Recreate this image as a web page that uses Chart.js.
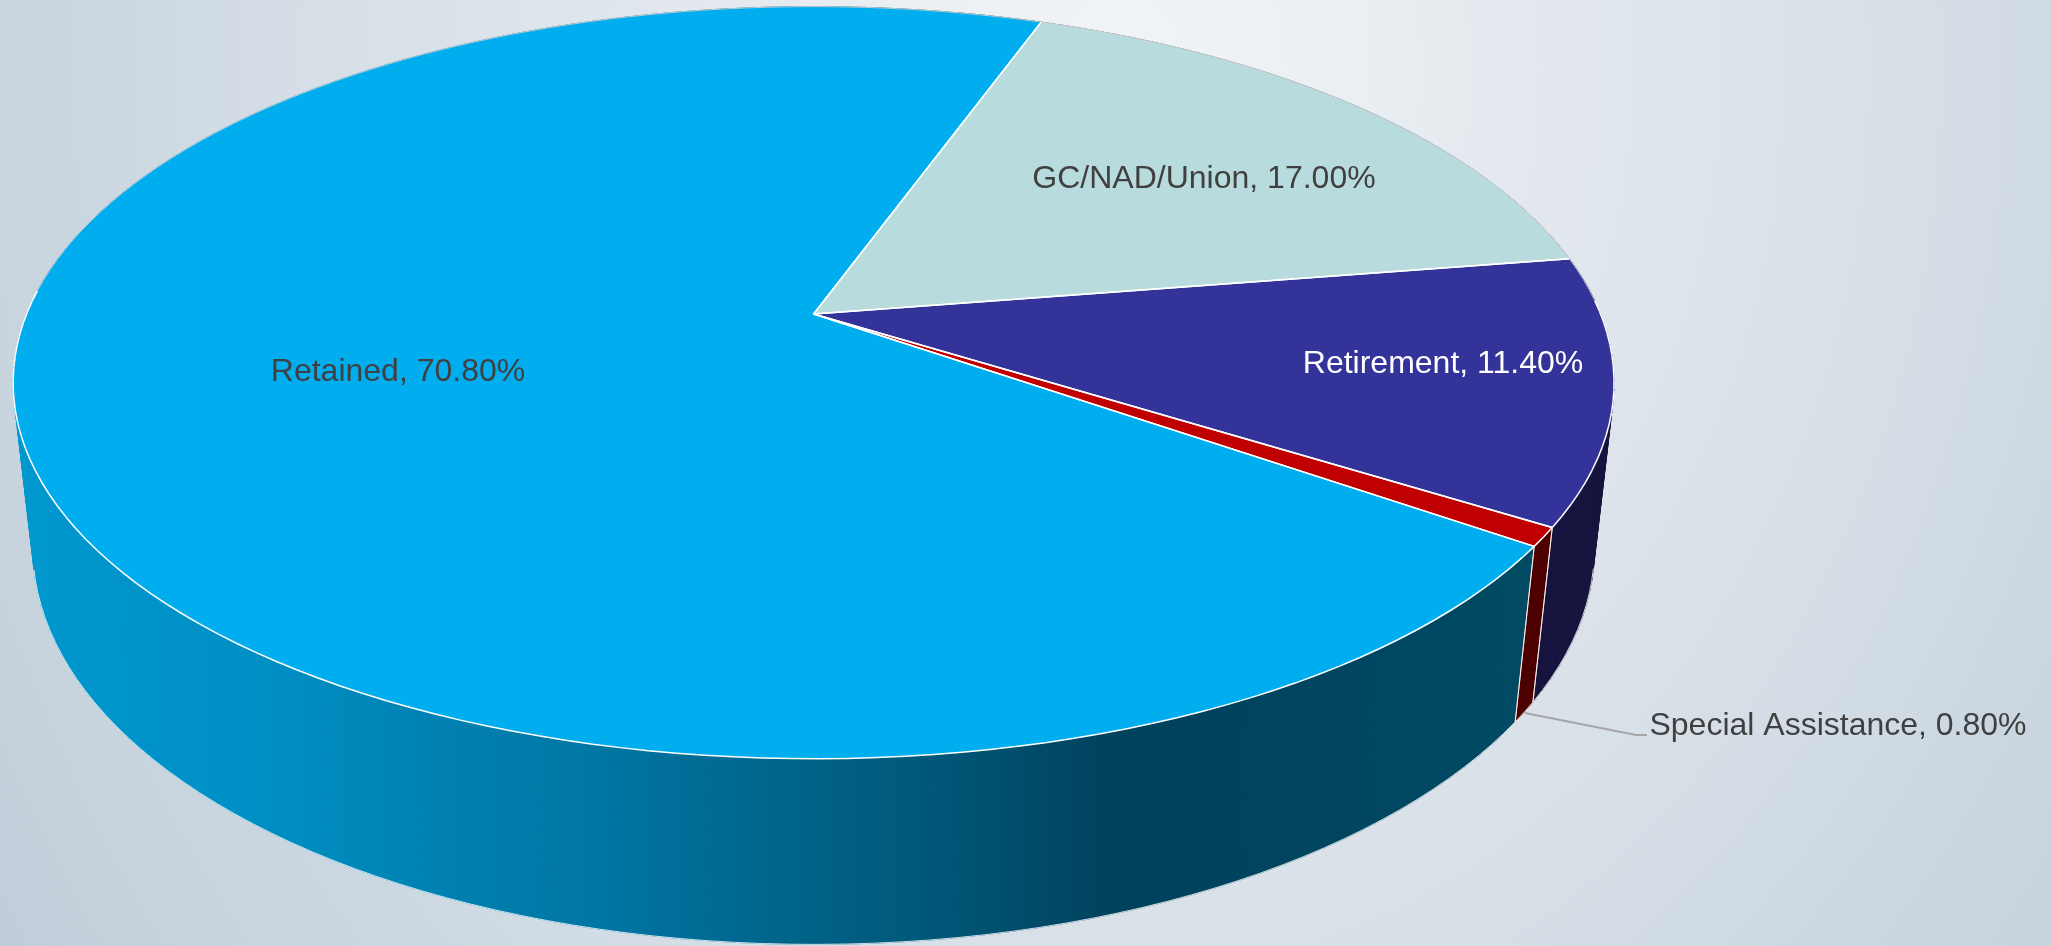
<!DOCTYPE html>
<html>
<head>
<meta charset="utf-8">
<title>Budget pie</title>
<script src="https://cdn.jsdelivr.net/npm/chart.js@4/dist/chart.umd.min.js"></script>
<style>
    html, body { margin: 0; padding: 0; width: 2051px; height: 946px; overflow: hidden; }
    body { background: radial-gradient(ellipse 1080px 1300px at 1120px 70px, #f1f4f6 0%, #eaeff2 22%, #e4e9ef 35%, #dde4eb 55%, #d4dde5 80%, #ccd8e1 93%, #c9d5de 104%, #bfcdd9 125%); }
    canvas { display: block; }
</style>
</head>
<body>
<canvas id="pie" width="2051" height="946"></canvas>
<script>
// Data
const categories = ['Retained', 'GC/NAD/Union', 'Retirement', 'Special Assistance'];
const shares = [70.8, 17.0, 11.4, 0.8];
const labelTexts = ['Retained, 70.80%', 'GC/NAD/Union, 17.00%', 'Retirement, 11.40%', 'Special Assistance, 0.80%'];

// Colours
const topColors = ['#00aeef', '#b8dbdd', '#333399', '#c00000'];
const sideColors = [null, '#5b7073', '#16143f', '#4d0000'];

// Where the data labels sit on the page
const labelSpots = [
    { x: 398, y: 372, color: '#404040' },
    { x: 1204, y: 179, color: '#404040' },
    { x: 1443, y: 364, color: '#ffffff' },
    { x: 1838, y: 726, color: '#404040' }
];

// Camera: maps a point of the unit disc (z = 0 top, z = 1 bottom) on to the page
const cam = { cx: 813.6, cy: 314, r: 787, s: 306.2, k: -0.1826, q: 174.7, m: 0.0243 };

function project(angle, radius, z) {
    const u = Math.cos(angle) * radius;
    const v = Math.sin(angle) * radius;
    const w = 1 + cam.k * v + cam.m * z;
    return {
        x: cam.cx + cam.r * u / w,
        y: (cam.cy + cam.s * v + cam.q * z) / w
    };
}

// Points along the rim between two angles
function rimPoints(start, end, z) {
    const steps = Math.max(1, Math.ceil((end - start) / 0.03));
    const pts = [];
    for (let i = 0; i <= steps; i++) {
        const p = project(start + (end - start) * i / steps, 1, z);
        p.angle = start + (end - start) * i / steps;
        pts.push(p);
    }
    return pts;
}

function tracePath(ctx, pts, close) {
    ctx.beginPath();
    pts.forEach((p, i) => (i ? ctx.lineTo(p.x, p.y) : ctx.moveTo(p.x, p.y)));
    if (close) ctx.closePath();
}

// A wall facet faces the viewer when its corners run one way round
function facesViewer(a, b, c) {
    return (b.x - a.x) * (c.y - a.y) - (b.y - a.y) * (c.x - a.x) > 0;
}

function sideGradient(ctx) {
    const grad = ctx.createLinearGradient(15, 0, 1520, 0);
    grad.addColorStop(0, '#0098cf');
    grad.addColorStop(0.16, '#008fc4');
    grad.addColorStop(0.4, '#0074a0');
    grad.addColorStop(0.55, '#005f83');
    grad.addColorStop(0.625, '#005575');
    grad.addColorStop(0.72, '#00435f');
    grad.addColorStop(0.78, '#00425e');
    grad.addColorStop(1, '#004a63');
    return grad;
}

// Draws the arcs that Chart.js laid out as a perspective 3D pie
const pie3d = {
    id: 'pie3d',
    beforeDatasetsDraw(chart) {
        const ctx = chart.ctx;
        const arcs = chart.getDatasetMeta(0).data;
        ctx.save();
        ctx.lineJoin = 'round';

        // side walls first, one facet at a time so the back and front don't cancel out
        arcs.forEach((arc, i) => {
            const top = rimPoints(arc.startAngle, arc.endAngle, 0);
            const bottom = rimPoints(arc.startAngle, arc.endAngle, 1);
            const fill = sideColors[i] || sideGradient(ctx);
            ctx.fillStyle = fill;
            ctx.strokeStyle = fill;
            ctx.lineWidth = 1;
            for (let n = 0; n < top.length - 1; n++) {
                tracePath(ctx, [top[n], top[n + 1], bottom[n + 1], bottom[n]], true);
                ctx.fill();
                ctx.stroke();
            }
        });

        // light edges of the walls, only where they can be seen
        ctx.strokeStyle = 'rgba(255,255,255,0.8)';
        ctx.lineWidth = 1;
        arcs.forEach((arc) => {
            const top = rimPoints(arc.startAngle, arc.endAngle, 0);
            const bottom = rimPoints(arc.startAngle, arc.endAngle, 1);
            const last = top.length - 1;
            for (let n = 0; n < last; n++) {
                if (facesViewer(bottom[n], bottom[n + 1], top[n])) {
                    tracePath(ctx, [bottom[n], bottom[n + 1]], false);
                    ctx.stroke();
                }
            }
            tracePath(ctx, [top[0], bottom[0]], false);
            ctx.stroke();
            tracePath(ctx, [top[last], bottom[last]], false);
            ctx.stroke();
        });

        // then the top face
        arcs.forEach((arc, i) => {
            const pts = rimPoints(arc.startAngle, arc.endAngle, 0);
            tracePath(ctx, pts.concat(project(0, 0, 0)), true);
            ctx.fillStyle = topColors[i];
            ctx.fill();
        });
        arcs.forEach((arc) => {
            const pts = rimPoints(arc.startAngle, arc.endAngle, 0);
            // spokes
            tracePath(ctx, [pts[pts.length - 1], project(0, 0, 0), pts[0]], false);
            ctx.strokeStyle = '#ffffff';
            ctx.lineWidth = 1.5;
            ctx.stroke();
            // rim: white at the front, a thin grey hairline at the back
            for (let n = 0; n < pts.length - 1; n++) {
                const front = Math.sin(pts[n].angle) > -0.05;
                ctx.strokeStyle = front ? '#ffffff' : 'rgba(205,210,215,0.9)';
                ctx.lineWidth = front ? 1.5 : 1;
                tracePath(ctx, [pts[n], pts[n + 1]], false);
                ctx.stroke();
            }
        });

        // leader line for the thin slice
        ctx.beginPath();
        ctx.moveTo(1525, 713);
        ctx.lineTo(1636, 735);
        ctx.lineTo(1647, 735);
        ctx.strokeStyle = '#a6a6a6';
        ctx.lineWidth = 2;
        ctx.stroke();

        // data labels
        ctx.font = '32px "Liberation Sans", Arial, sans-serif';
        ctx.textAlign = 'center';
        ctx.textBaseline = 'middle';
        labelTexts.forEach((text, i) => {
            ctx.fillStyle = labelSpots[i].color;
            ctx.fillText(text, labelSpots[i].x, labelSpots[i].y);
        });

        ctx.restore();
        return false; // the flat arcs are not wanted
    }
};

new Chart(document.getElementById('pie').getContext('2d'), {
    type: 'pie',
    data: {
        labels: categories,
        datasets: [{ data: shares, backgroundColor: topColors }]
    },
    options: {
        responsive: false,
        animation: false,
        rotation: 124.92,
        plugins: {
            legend: { display: false },
            tooltip: { enabled: false }
        }
    },
    plugins: [pie3d]
});
</script>
</body>
</html>
